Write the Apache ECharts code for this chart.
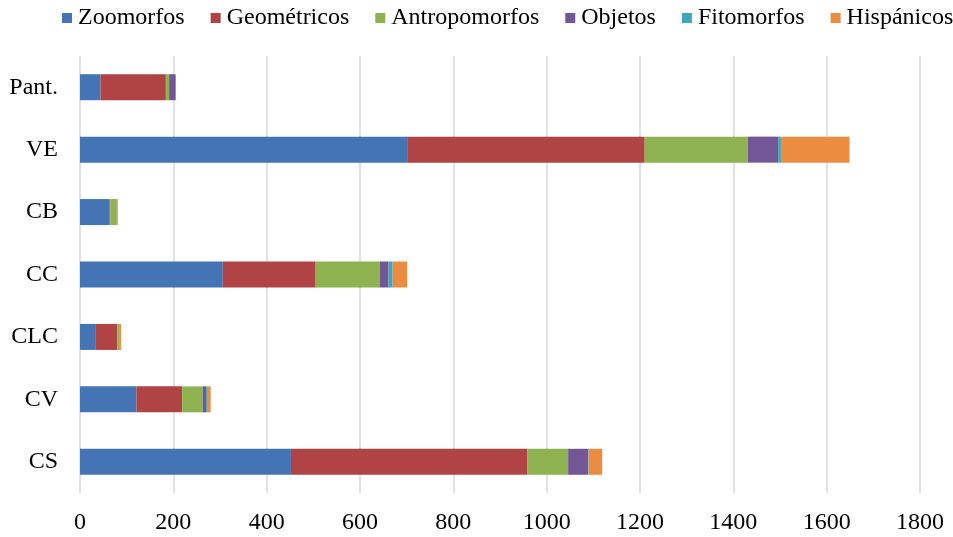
<!DOCTYPE html>
<html>
<head>
<meta charset="utf-8">
<script src="https://cdn.jsdelivr.net/npm/echarts@6/dist/echarts.min.js"></script>
<style>
  html, body { margin: 0; padding: 0; background: #fff; }
  #chart { width: 953px; height: 537px; }
</style>
</head>
<body>
<div id="chart"></div>
<script>
// Sites, listed bottom to top
const categories = ['CS', 'CV', 'CLC', 'CC', 'CB', 'VE', 'Pant.'];

// Motif counts per site (same order as categories)
const zoomorfos     = [452, 121, 34, 306, 63, 701, 44];
const geometricos   = [507, 98, 46, 199, 2, 509, 140];
const antropomorfos = [87, 44, 4, 137, 14, 221, 7];
const objetos       = [43, 7, 1, 19, 0, 65, 14];
const fitomorfos    = [1, 2, 0, 9, 0, 6, 0];
const hispanicos    = [29, 8, 3, 31, 2, 147, 0];

const seriesNames = ['Zoomorfos', 'Geométricos', 'Antropomorfos', 'Objetos', 'Fitomorfos', 'Hispánicos'];
const seriesData = [zoomorfos, geometricos, antropomorfos, objetos, fitomorfos, hispanicos];
const colors = ['#4474B3', '#B04343', '#8DB24F', '#735695', '#3FA6BF', '#EC8C41'];

const FONT = '"Liberation Serif", "Times New Roman", serif';

const chart = echarts.init(document.getElementById('chart'), null, { renderer: 'canvas' });

chart.setOption({
  animation: false,
  color: colors,
  textStyle: { fontFamily: FONT },
  legend: {
    orient: 'horizontal',
    top: 6,
    left: 62,
    width: 960,
    padding: 0,
    itemWidth: 10,
    itemHeight: 10,
    itemGap: 26,
    icon: 'rect',
    textStyle: { fontFamily: FONT, fontSize: 24, color: '#000', padding: [0, 0, 0, 1] },
    data: seriesNames
  },
  grid: { left: 80, right: 33, top: 56, bottom: 44, containLabel: false },
  xAxis: {
    type: 'value',
    min: 0,
    max: 1800,
    interval: 200,
    axisLine: { show: false },
    axisTick: { show: false },
    splitLine: { show: true, lineStyle: { color: '#d9d9d9', width: 1.5 } },
    axisLabel: {
      fontFamily: FONT, fontSize: 24, color: '#000', margin: 18,
      formatter: v => String(v)
    }
  },
  yAxis: {
    type: 'category',
    data: categories,
    axisLine: { show: false },
    axisTick: { show: false },
    axisLabel: { fontFamily: FONT, fontSize: 24, color: '#000', margin: 22 }
  },
  series: seriesNames.map((name, i) => ({
    name: name,
    type: 'bar',
    stack: 'total',
    barWidth: 26,
    data: seriesData[i]
  }))
});
</script>
</body>
</html>
